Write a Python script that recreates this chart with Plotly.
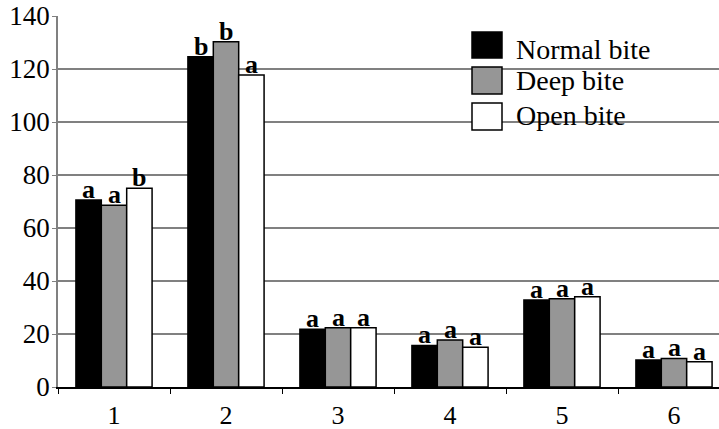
import plotly.graph_objects as go

categories = ["1", "2", "3", "4", "5", "6"]
series_names = ["Normal bite", "Deep bite", "Open bite"]
normal_vals = [70.6, 124.6, 21.8, 15.7, 32.8, 10.2]
deep_vals = [68.6, 130.3, 22.4, 17.7, 33.3, 10.8]
open_vals = [75.0, 117.7, 22.4, 15.0, 34.1, 9.5]
normal_lbl = ["a", "b", "a", "a", "a", "a"]
deep_lbl = ["a", "b", "a", "a", "a", "a"]
open_lbl = ["b", "a", "a", "a", "a", "a"]
y_ticks = [0, 20, 40, 60, 80, 100, 120, 140]

colors = ["#000000", "#969696", "#ffffff"]
SERIF = "Liberation Serif"

W, H = 719, 429
ML, MT, MB, MR = 58, 16, 42, 0
BARGAP = 0.32
CAT_PX = 112.0

fig = go.Figure()
all_vals = [normal_vals, deep_vals, open_vals]
all_lbls = [normal_lbl, deep_lbl, open_lbl]
for name, vals, col in zip(series_names, all_vals, colors):
    fig.add_trace(go.Bar(
        x=categories, y=vals, name=name,
        marker=dict(color=col, line=dict(color="black", width=1.5)),
        showlegend=False,
    ))

# significance letters above each bar
bar_px = CAT_PX * (1 - BARGAP) / 3
for k, (vals, lbls) in enumerate(zip(all_vals, all_lbls)):
    for i, (v, l) in enumerate(zip(vals, lbls)):
        fig.add_annotation(x=i, y=v, xref="x", yref="y", text="<b>%s</b>" % l,
                           showarrow=False, xanchor="center", yanchor="bottom",
                           xshift=(k - 1) * bar_px, yshift=-6,
                           font=dict(family=SERIF, size=26, color="black"))

pw = W - ML - MR
ph = H - MT - MB
def px2paper(x, y):
    return (x - ML) / pw, (H - MB - y) / ph

# legend drawn manually
sw = [(472, 32, 502, 58), (472, 67, 502, 94), (472, 103, 502, 130)]
ty = [49, 81, 115]
for (x0, y0, x1, y1), col, name, t in zip(sw, colors, series_names, ty):
    a0 = px2paper(x0, y1)
    a1 = px2paper(x1, y0)
    fig.add_shape(type="rect", xref="paper", yref="paper",
                  x0=a0[0], y0=a0[1], x1=a1[0], y1=a1[1],
                  fillcolor=col, line=dict(color="black", width=1.5), layer="above")
    tx, tyy = px2paper(514, t)
    fig.add_annotation(x=tx, y=tyy, xref="paper", yref="paper", text=name,
                       showarrow=False, xanchor="left", yanchor="middle",
                       font=dict(family=SERIF, size=28, color="black"))

xr_end = -0.5 + pw / CAT_PX
fig.update_layout(
    width=W, height=H,
    margin=dict(l=ML, r=MR, t=MT, b=MB, pad=0),
    paper_bgcolor="white", plot_bgcolor="white",
    barmode="group", bargap=BARGAP, bargroupgap=0,
    font=dict(family=SERIF, color="black", size=26),
)
fig.update_xaxes(type="category", range=[-0.5, xr_end], tickson="boundaries",
                 ticks="outside", ticklen=5, tickcolor="black", showline=True,
                 linecolor="black", linewidth=1.5, showgrid=False, automargin=False,
                 tickfont=dict(family=SERIF, size=26, color="black"),
                 ticklabelstandoff=4)
fig.update_yaxes(range=[0, 140], tickvals=y_ticks, showgrid=True,
                 gridcolor="#808080", gridwidth=1.5, showline=True,
                 linecolor="#808080", linewidth=1.5, ticks="outside", ticklen=4,
                 tickcolor="#808080", zeroline=False, automargin=False,
                 tickfont=dict(family=SERIF, size=27, color="black"),
                 ticklabelstandoff=-3)

fig.write_html("out.html", config={"displayModeBar": False},
               post_script="document.body.style.margin='0';document.body.style.padding='0';")
